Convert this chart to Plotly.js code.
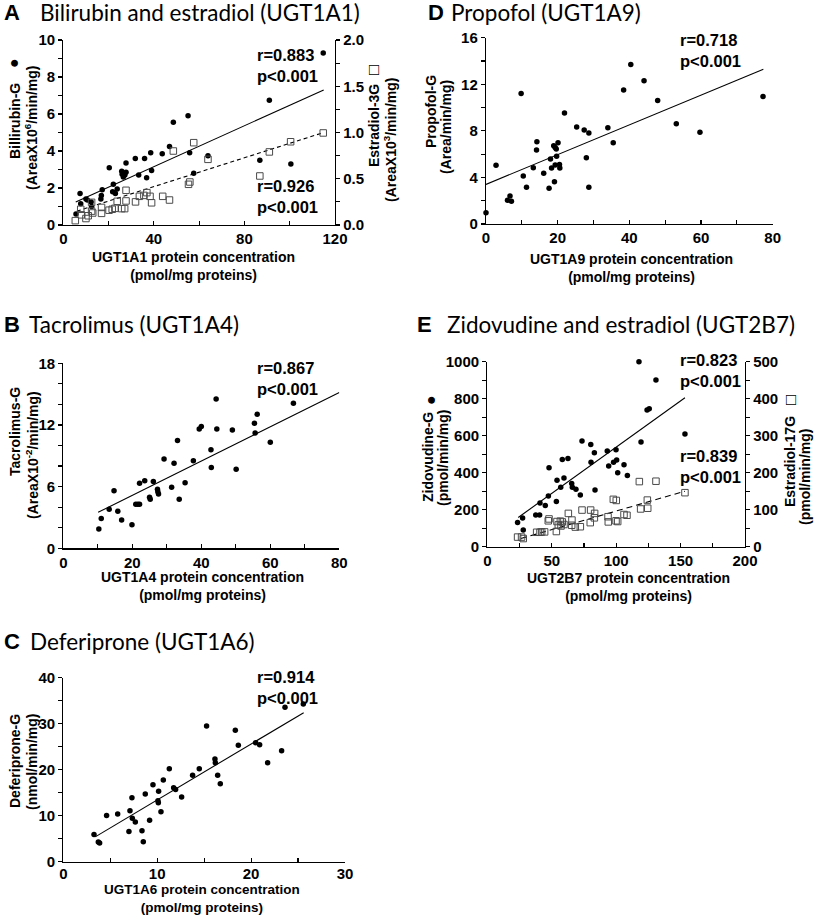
<!DOCTYPE html>
<html>
<head>
<meta charset="utf-8">
<script src="https://cdn.plot.ly/plotly-3.0.1.min.js"></script>
<style>html,body{margin:0;padding:0;background:#fff;}#chart{width:814px;height:915px;}</style>
</head>
<body>
<div id="chart"></div>
<script>
// ---------- Panel A: Bilirubin and estradiol (UGT1A1) ----------
const A_bil_x = [5.6,7.4,7.7,10.0,10.6,12.3,12.5,16.6,16.8,17.2,20.3,21.8,22.1,23.0,23.8,25.8,26.0,26.5,27.2,27.7,27.7,31.8,33.3,35.9,36.8,38.6,39.0,43.7,46.9,48.6,55.1,55.8,57.6,63.9,86.8,91.0,100.5,114.8];
const A_bil_y = [0.6,1.7,1.15,1.4,1.35,1.25,1.0,1.4,1.6,1.9,3.1,1.8,2.2,1.7,1.95,2.9,2.75,2.6,2.7,3.35,2.85,3.6,2.7,3.6,2.55,3.9,2.95,3.85,4.25,5.55,5.9,3.9,2.8,3.75,3.5,6.75,3.3,9.3];
const A_est_x = [5.3,7.7,7.9,10.0,11.0,12.5,12.5,13.0,16.9,16.9,20.2,21.6,22.8,23.8,25.8,27.1,27.7,27.7,31.9,33.6,35.6,36.9,38.3,39.0,43.9,46.9,48.6,55.3,55.9,57.6,63.9,86.8,91.0,100.4,114.8];
const A_est_y = [0.047,0.17,0.11,0.07,0.10,0.15,0.245,0.13,0.19,0.126,0.16,0.17,0.18,0.256,0.177,0.177,0.375,0.26,0.25,0.31,0.32,0.35,0.31,0.24,0.31,0.27,0.80,0.44,0.465,0.89,0.71,0.53,0.79,0.90,0.995];
const A_fit_bil_x = [5.5,115], A_fit_bil_y = [1.25,7.3];
const A_fit_est_x = [6,115],   A_fit_est_y = [0.15,1.0];

// ---------- Panel D: Propofol (UGT1A9) ----------
const D_x = [0,2.8,6.0,6.7,7.1,9.8,10.4,11.3,13.2,14.1,14.2,16.1,17.6,18.0,18.3,18.9,19.1,19.3,19.3,19.6,19.7,20.1,20.5,20.6,21.9,25.3,27.4,28.0,28.7,28.7,34.0,35.5,38.4,40.4,44.1,47.9,53.1,59.7,77.3];
const D_y = [0.97,5.04,2.03,2.4,1.95,11.2,4.12,3.15,4.84,6.35,7.07,4.35,3.06,5.58,4.81,6.73,3.63,6.58,5.07,6.44,5.81,6.98,5.12,4.81,9.53,8.33,8.07,5.7,3.15,7.81,8.27,6.98,11.5,13.7,12.3,10.6,8.61,7.87,10.96];
const D_fit_x = [0,77.4], D_fit_y = [3.4,13.3];

// ---------- Panel B: Tacrolimus (UGT1A4) ----------
const B_x = [10.3,11.0,13.3,14.7,15.8,16.9,19.9,21.0,21.6,22.1,22.1,23.6,25.0,25.2,26.1,27.3,27.4,27.6,29.2,31.4,32.1,33.1,33.6,35.3,37.7,39.4,40.0,42.8,42.9,44.3,44.5,49.0,50.1,55.4,55.6,56.2,60.0,66.7];
const B_y = [1.88,2.89,3.8,5.61,3.6,2.76,2.30,4.28,4.28,4.28,6.32,6.58,4.96,4.77,6.49,5.74,5.51,5.29,8.69,5.94,8.27,10.48,4.77,6.39,8.53,11.61,11.84,9.6,7.85,14.53,11.61,11.51,7.69,12.16,11.22,13.04,10.31,14.11];
const B_fit_x = [10.1,80], B_fit_y = [3.5,15.15];

// ---------- Panel E: Zidovudine and estradiol (UGT2B7) ----------
const E_zid_x = [23.5,27.4,27.9,37.6,40.6,40.9,45.0,47.4,47.9,54.1,53.6,57.0,58.2,59.5,62.6,65.5,66.0,68.8,72.2,73.5,80.3,80.5,83.1,83.6,93.1,94.2,98.0,99.9,100.4,101.2,106.1,108.7,117.7,119.3,124.0,125.7,130.9,153.4];
const E_zid_y = [131,155,90,171,171,236,223,274,427,359,245,321,472,372,477,342,321,310,279,571,553,456,508,306,517,436,456,524,468,400,443,385,1000,566,739,746,901,609];
const E_est_x = [23.5,26.6,27.9,38.3,40.9,42.2,44.5,47.3,47.9,53.6,54.1,55.1,56.7,57.2,58.2,59.5,62.9,65.5,65.7,68.3,72.2,73.5,79.9,80.2,83.1,83.3,93.7,93.9,97.8,100.1,99.9,101.2,106.1,108.4,118,119,124.2,124.5,130.9,153.4];
const E_est_y = [26,26,22,39,39,40,40,70,75,41,68,59,69,56,67,60,90,58,72,53,54,99,65,99,78,90,81,67,128,125,70,68,87,85,176,102,126,104,177,146];
const E_fit_zid_x = [24,153.4], E_fit_zid_y = [158,805];
const E_fit_est_x = [26,153.4], E_fit_est_y = [22,150];

// ---------- Panel C: Deferiprone (UGT1A6) ----------
const C_x = [3.27,3.73,3.87,4.61,5.79,6.99,7.10,7.31,7.35,7.67,8.38,8.52,8.73,9.19,9.55,10.08,10.12,10.15,10.40,10.65,11.29,11.75,11.96,12.60,13.77,14.48,15.26,16.15,16.19,16.44,16.72,18.32,18.64,20.48,20.91,21.76,23.25,23.61,25.56];
const C_y = [5.94,4.28,4.06,10.07,10.36,6.59,11.09,13.9,9.42,8.62,6.74,4.35,14.71,8.99,16.74,13.26,12.83,15.29,10.87,17.75,20.22,16.09,15.72,14.06,18.77,20.22,29.49,22.3,21.5,18.77,16.96,28.55,25.29,25.87,25.43,21.52,24.13,33.55,34.28];
const C_fit_x = [3.4,25.6], C_fit_y = [5.4,32.4];

// ---------- text ----------
const panelLetters = ['A','D','B','E','C'];
const panelTitles = ['Bilirubin and estradiol (UGT1A1)','Propofol (UGT1A9)','Tacrolimus (UGT1A4)','Zidovudine and estradiol (UGT2B7)','Deferiprone (UGT1A6)'];
const xTitles = ['UGT1A1 protein concentration<br>(pmol/mg proteins)','UGT1A9 protein concentration<br>(pmol/mg proteins)','UGT1A4 protein concentration<br>(pmol/mg proteins)','UGT2B7 protein concentration<br>(pmol/mg proteins)','UGT1A6 protein concentration<br>(pmol/mg proteins)'];
const stats = ['r=0.883<br>p<0.001','r=0.926<br>p<0.001','r=0.718<br>p<0.001','r=0.867<br>p<0.001','r=0.823<br>p<0.001','r=0.839<br>p<0.001','r=0.914<br>p<0.001'];

// ---------- layout helpers ----------
const W = 814, H = 915;
const dx = p => p / W;
const dy = p => 1 - p / H;
const FB = 'Liberation Sans, Arial, sans-serif';
const FT = 'Lato, Carlito, sans-serif';
const tickFont = {family: FB, size: 15, weight: 'bold', color: '#000'};

function xaxis(px0, px1, anchor, range, dtick, minor, extra) {
  const a = {
    domain: [dx(px0), dx(px1)], anchor: anchor, range: range, autorange: false,
    tick0: 0, dtick: dtick, ticks: 'inside', ticklen: 4, tickwidth: 1.2, tickcolor: '#000',
    minor: {dtick: minor, tick0: 0, ticks: 'inside', ticklen: 4, tickwidth: 1.2, tickcolor: '#000', showgrid: false},
    showline: true, linecolor: '#000', linewidth: 1.2, showgrid: false, zeroline: false,
    tickfont: tickFont
  };
  return Object.assign(a, extra || {});
}
function yaxis(py0, py1, anchor, range, dtick, minor, extra) {
  const a = {
    domain: [dy(py1), dy(py0)], anchor: anchor, range: range, autorange: false,
    tick0: 0, dtick: dtick, ticks: 'outside', ticklen: 4, tickwidth: 1.2, tickcolor: '#000',
    minor: {dtick: minor, tick0: 0, ticks: 'outside', ticklen: 4, tickwidth: 1.2, tickcolor: '#000', showgrid: false},
    showline: true, linecolor: '#000', linewidth: 1.2, showgrid: false, zeroline: false,
    tickfont: tickFont
  };
  return Object.assign(a, extra || {});
}

const dotM = {symbol: 'circle', size: 5.5, color: '#000'};
const sqM = {symbol: 'square-open', size: 6.5, color: '#4a4a4a', line: {width: 1, color: '#4a4a4a'}};
function pts(x, y, xa, ya, m) { return {type: 'scatter', mode: 'markers', x: x, y: y, xaxis: xa, yaxis: ya, marker: m, cliponaxis: false, hoverinfo: 'x+y'}; }
function fit(x, y, xa, ya, dash) { return {type: 'scatter', mode: 'lines', x: x, y: y, xaxis: xa, yaxis: ya, line: {color: '#000', width: 1.1, dash: dash || 'solid'}, hoverinfo: 'skip'}; }

const data = [
  fit(A_fit_est_x, A_fit_est_y, 'x', 'y2', '4px,3px'),
  fit(A_fit_bil_x, A_fit_bil_y, 'x', 'y'),
  pts(A_est_x, A_est_y, 'x', 'y2', sqM),
  pts(A_bil_x, A_bil_y, 'x', 'y', dotM),
  fit(D_fit_x, D_fit_y, 'x2', 'y3'),
  pts(D_x, D_y, 'x2', 'y3', dotM),
  fit(B_fit_x, B_fit_y, 'x3', 'y4'),
  pts(B_x, B_y, 'x3', 'y4', dotM),
  fit(E_fit_est_x, E_fit_est_y, 'x4', 'y6', '6px,4px'),
  fit(E_fit_zid_x, E_fit_zid_y, 'x4', 'y5'),
  pts(E_est_x, E_est_y, 'x4', 'y6', sqM),
  pts(E_zid_x, E_zid_y, 'x4', 'y5', dotM),
  fit(C_fit_x, C_fit_y, 'x5', 'y7'),
  pts(C_x, C_y, 'x5', 'y7', dotM)
];

// annotations
const ann = [];
function txt(text, px, py, o) {
  ann.push(Object.assign({text: text, xref: 'paper', yref: 'paper', x: dx(px), y: dy(py), showarrow: false,
    xanchor: 'left', yanchor: 'middle', align: 'left', font: {family: FB, size: 15, weight: 'bold', color: '#000'}}, o || {}));
}
function ytitle(text, px, py, size) {
  txt(text, px, py, {xanchor: 'center', yanchor: 'middle', align: 'center', textangle: -90, font: {family: FB, size: size || 14, weight: 'bold', color: '#000'}});
}
// panel letters and titles
const titlePos = [[2, 38, 13], [426, 449, 13], [2, 27, 325], [415, 445, 325], [2, 28, 641]];
titlePos.forEach((p, i) => {
  txt(panelLetters[i], p[0], p[2], {font: {family: FB, size: 22, weight: 'bold', color: '#000'}});
  txt(panelTitles[i], p[1], p[2], {font: {family: FT, size: 22.5, color: '#000'}});
});
// x-axis titles (centre of the two-line block)
const xTitlePos = [[193, 266], [631, 267.5], [202, 586], [628, 586.5], [202, 898]];
xTitlePos.forEach((p, i) => txt(xTitles[i], p[0], p[1], {xanchor: 'center', align: 'center', font: {family: FB, size: i === 4 ? 13.5 : 14, weight: 'bold', color: '#000'}}));
// statistics (centre of the two-line block)
const statPos = [[255, 66], [255, 196], [678, 51], [255, 378], [678, 371], [678, 467], [255, 687]];
statPos.forEach((p, i) => txt(stats[i], p[0], p[1], {font: {family: FB, size: 16.5, weight: 'bold', color: '#000'}}));
// y titles
ytitle('\u25CF', 13, 63, 16);
ytitle('Billirubin-G', 15, 121);
ytitle('(AreaX10<sup>6</sup>/min/mg)', 31, 128);
ytitle('\u25A1', 374, 70, 17);
ytitle('Estradiol-3G', 374, 126);
ytitle('(AreaX10<sup>3</sup>/min/mg)', 390, 140);
ytitle('Propofol-G', 431, 112);
ytitle('(Area/min/mg)', 446, 127);
ytitle('Tacrolimus-G', 15, 432);
ytitle('(AreaX10<sup>-2</sup>/min/mg)', 32, 455);
ytitle('\u25CF', 430, 400, 16);
ytitle('Zidovudine-G', 428, 457);
ytitle('(pmol/min/mg)', 443, 458);
ytitle('\u25A1', 790, 400, 17);
ytitle('Estradiol-17G', 790, 462);
ytitle('(pmol/min/mg)', 805, 477);
ytitle('Deferiprone-G', 15, 761);
ytitle('(nmol/min/mg)', 32, 762);

const layout = {
  width: W, height: H, margin: {l: 0, r: 0, t: 0, b: 0}, paper_bgcolor: '#fff', plot_bgcolor: 'rgba(0,0,0,0)',
  showlegend: false, font: {family: FB, color: '#000'},
  xaxis:  xaxis(63.3, 335, 'y', [0, 120], 40, 20),
  yaxis:  yaxis(40, 225, 'x', [0, 10], 2, 1),
  yaxis2: yaxis(40, 225, 'x', [0, 2], 0.5, 0.25, {overlaying: 'y', side: 'right', tickformat: '.1f'}),
  xaxis2: xaxis(486, 772.7, 'y3', [0, 80], 20, 10),
  yaxis3: yaxis(37.7, 224, 'x2', [0, 16], 4, 2),
  xaxis3: xaxis(63.3, 339.3, 'y4', [0, 80], 20, 10),
  yaxis4: yaxis(363.3, 548.3, 'x3', [0, 18], 6, 2),
  xaxis4: xaxis(487.3, 745, 'y5', [0, 200], 50, 25),
  yaxis5: yaxis(361.7, 546.7, 'x4', [0, 1000], 200, 100),
  yaxis6: yaxis(361.7, 546.7, 'x4', [0, 500], 100, 50, {overlaying: 'y5', side: 'right'}),
  xaxis5: xaxis(63.3, 345, 'y7', [0, 30], 10, 5, {ticklabelstandoff: -2}),
  yaxis7: yaxis(677.7, 861.7, 'x5', [0, 40], 10, 5),
  annotations: ann
};
Plotly.newPlot('chart', data, layout, {displayModeBar: false, staticPlot: true});
</script>
</body>
</html>
